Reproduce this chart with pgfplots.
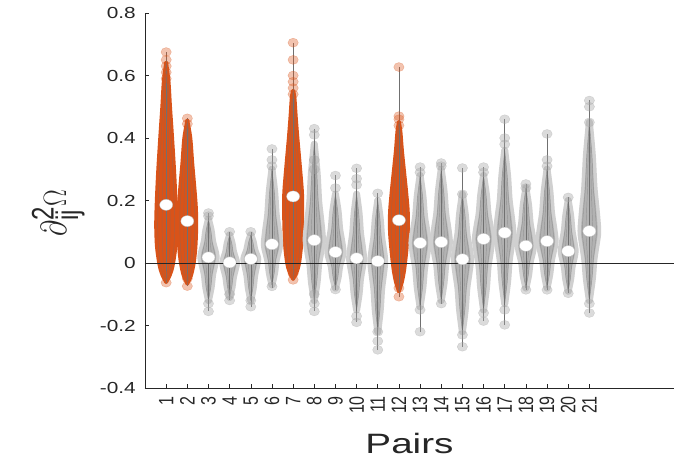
\documentclass[border=0pt]{standalone}
\usepackage{fontspec}
\setmainfont{Liberation Sans}
\usepackage{graphicx}
\usepackage{pgfplots}
\pgfplotsset{compat=1.18}
\usepackage{pgfplotstable}

\definecolor{vorange}{RGB}{217,83,25}
\definecolor{vgray}{RGB}{178,178,178}
\definecolor{vgraylt}{RGB}{208,208,208}
\definecolor{vline}{RGB}{112,112,112}
\definecolor{vdot}{RGB}{165,165,165}
\definecolor{axcol}{RGB}{38,38,38}

% per pair: min, median, max
\pgfplotstableread{
x lo med hi
1 -0.063 0.186 0.675
2 -0.074 0.134 0.463
3 -0.155 0.018 0.160
4 -0.120 0.002 0.100
5 -0.140 0.013 0.100
6 -0.080 0.060 0.365
7 -0.054 0.213 0.705
8 -0.155 0.073 0.430
9 -0.085 0.035 0.280
10 -0.190 0.015 0.303
11 -0.278 0.006 0.223
12 -0.108 0.137 0.627
13 -0.220 0.064 0.307
14 -0.130 0.067 0.320
15 -0.268 0.012 0.304
16 -0.186 0.077 0.307
17 -0.198 0.097 0.460
18 -0.086 0.055 0.253
19 -0.086 0.070 0.413
20 -0.097 0.038 0.210
21 -0.160 0.102 0.520
}\stats

% sparse points in the tails
\pgfplotstableread{
x y
1 0.675
1 0.650
1 0.630
1 0.610
1 0.590
1 -0.040
1 -0.063
2 0.463
2 0.445
2 -0.050
2 -0.074
7 0.705
7 0.650
7 0.600
7 0.580
7 0.560
7 0.540
7 -0.035
7 -0.054
12 0.627
12 0.470
12 0.460
12 0.440
12 -0.080
12 -0.108
}\odots

\pgfplotstableread{
x y
3 0.160
3 0.150
3 -0.130
3 -0.155
4 0.100
4 -0.100
4 -0.120
5 0.100
5 -0.120
5 -0.140
6 0.365
6 0.330
6 0.310
6 -0.075
8 0.430
8 0.410
8 0.330
8 0.300
8 -0.100
8 -0.130
8 -0.155
9 0.280
9 0.240
9 -0.085
10 0.303
10 0.270
10 0.250
10 -0.170
10 -0.190
11 0.223
11 -0.220
11 -0.250
11 -0.278
13 0.307
13 0.290
13 -0.150
13 -0.220
14 0.320
14 0.310
14 -0.130
15 0.304
15 0.220
15 -0.230
15 -0.268
16 0.307
16 0.290
16 -0.160
16 -0.186
17 0.460
17 0.400
17 0.380
17 -0.150
17 -0.198
18 0.253
18 0.240
18 -0.086
19 0.413
19 0.330
19 0.310
19 -0.086
20 0.210
20 -0.097
21 0.520
21 0.500
21 0.450
21 -0.130
21 -0.160
}\gdots

% #1 position, #2 body colour, #3 halo style, #4 profile (y, half width), #5 width factor
\newcommand{\violin}[5]{%
  \addplot[#3, line cap=round, line join=round, smooth]
    table[row sep=\\, x expr=#1+#5*\thisrow{w}, y=y] {#4};
  \addplot[#3, line cap=round, line join=round, smooth]
    table[row sep=\\, x expr=#1-#5*\thisrow{w}, y=y] {#4};
  \addplot[fill=#2, draw=none, smooth]
    table[row sep=\\, x expr=#1+#5*\thisrow{w}, y=y] {#4} -- cycle;
  \addplot[fill=#2, draw=none, smooth]
    table[row sep=\\, x expr=#1-#5*\thisrow{w}, y=y] {#4} -- cycle;
  \addplot[vline, line width=0.45pt, smooth, opacity=0.45]
    table[row sep=\\, x expr=#1+0.85*#5*\thisrow{w}, y=y] {#4};
  \addplot[vline, line width=0.45pt, smooth, opacity=0.45]
    table[row sep=\\, x expr=#1-0.85*#5*\thisrow{w}, y=y] {#4};
  \addplot[vline, line width=0.45pt, smooth, opacity=0.45]
    table[row sep=\\, x expr=#1+0.4*#5*\thisrow{w}, y=y] {#4};
  \addplot[vline, line width=0.45pt, smooth, opacity=0.45]
    table[row sep=\\, x expr=#1-0.4*#5*\thisrow{w}, y=y] {#4};
}

\begin{document}
\begin{tikzpicture}
\begin{axis}[
  scale only axis, width=529pt, height=375pt,
  at={(0,0)}, anchor=south west,
  xmin=0, xmax=25, ymin=-0.4, ymax=0.8,
  axis x line*=bottom, axis y line*=left,
  axis line style={axcol, line width=0.7pt, -},
  tick align=inside, major tick length=4pt,
  tick style={axcol, line width=0.6pt},
  xtick={1,...,21}, ytick={-0.4,-0.2,0,0.2,0.4,0.6,0.8},
  /pgf/number format/assume math mode=true,
  /pgf/number format/fixed, /pgf/number format/precision=1,
  tick label style={font=\fontsize{16}{16}\selectfont, text=axcol},
  xticklabel={\scalebox{1}[1.3]{\pgfmathprintnumber{\tick}}},
  yticklabel={\scalebox{1.3}[1]{\pgfmathprintnumber{\tick}}},
  xticklabel style={rotate=90, anchor=east, inner xsep=8pt, inner ysep=0pt},
  yticklabel style={anchor=east, inner xsep=9pt},
  xlabel={\scalebox{1.38}[1]{Pairs}},
  xlabel style={font=\fontsize{28}{28}\selectfont, text=axcol,
    at={(axis description cs:0.5,-0.147)}, anchor=center},
  ylabel={\scalebox{1}[1.3]{$\scalebox{1.12}{$\partial$}^{\mbox{\fontsize{24}{24}\selectfont 2}}_{\mbox{\fontsize{24}{24}\selectfont ij}}\Omega$}},
  ylabel style={font=\fontsize{46}{46}\selectfont, text=axcol,
    at={(axis description cs:-0.164,0.466)}, anchor=center},
]

% tail points
\addplot[only marks, mark=*, mark size=4.5pt, vorange, opacity=0.35,
  mark options={xscale=1.15, draw=none}] table {\odots};
\addplot[only marks, mark=*, mark size=4.5pt, vdot, opacity=0.4,
  mark options={xscale=1.15, draw=none}] table {\gdots};

% orange pairs
\violin{1}{vorange}{vorange, line width=4pt}{y w\\-0.06 0\\-0.04 0.16\\-0.01 0.3\\0.05 0.43\\0.12 0.47\\0.2 0.44\\0.3 0.37\\0.42 0.26\\0.5 0.18\\0.58 0.11\\0.64 0\\}{1}
\violin{2}{vorange}{vorange, line width=4pt}{y w\\-0.065 0\\-0.04 0.17\\0.0 0.3\\0.05 0.38\\0.12 0.42\\0.18 0.4\\0.25 0.32\\0.32 0.23\\0.4 0.14\\0.455 0\\}{1}
\violin{7}{vorange}{vorange, line width=4pt}{y w\\-0.05 0\\-0.03 0.16\\0.0 0.28\\0.06 0.38\\0.14 0.42\\0.22 0.42\\0.3 0.33\\0.4 0.2\\0.47 0.12\\0.53 0.06\\0.55 0\\}{1}
\violin{12}{vorange}{vorange, line width=4pt}{y w\\-0.09 0\\-0.06 0.14\\-0.02 0.25\\0.04 0.35\\0.1 0.42\\0.16 0.42\\0.22 0.35\\0.3 0.23\\0.36 0.14\\0.42 0.07\\0.45 0\\}{1}

% grey pairs
\violin{3}{vgray}{vgraylt, line width=7pt}{y w\\-0.12 0\\-0.078 0.115\\-0.036 0.18\\-0.008 0.265\\0.02 0.33\\0.044 0.265\\0.068 0.18\\0.104 0.115\\0.14 0\\}{1.1}
\violin{4}{vgray}{vgraylt, line width=7pt}{y w\\-0.11 0\\-0.077 0.105\\-0.044 0.165\\-0.022 0.24\\0.0 0.3\\0.018 0.24\\0.036 0.165\\0.063 0.105\\0.09 0\\}{1.1}
\violin{5}{vgray}{vgraylt, line width=7pt}{y w\\-0.12 0\\-0.08 0.105\\-0.04 0.165\\-0.013 0.24\\0.013 0.3\\0.028 0.24\\0.044 0.165\\0.067 0.105\\0.09 0\\}{1.1}
\violin{6}{vgray}{vgraylt, line width=7pt}{y w\\-0.07 0\\-0.031 0.115\\0.008 0.18\\0.034 0.265\\0.06 0.33\\0.108 0.265\\0.156 0.18\\0.228 0.115\\0.30 0\\}{1.1}
\violin{8}{vgray}{vgraylt, line width=7pt}{y w\\-0.12 0\\-0.062 0.12\\-0.003 0.19\\0.036 0.28\\0.075 0.35\\0.136 0.28\\0.197 0.19\\0.289 0.12\\0.38 0\\}{1.1}
\violin{9}{vgray}{vgraylt, line width=7pt}{y w\\-0.08 0\\-0.046 0.115\\-0.011 0.18\\0.012 0.265\\0.035 0.33\\0.072 0.265\\0.109 0.18\\0.165 0.115\\0.22 0\\}{1.1}
\violin{10}{vgray}{vgraylt, line width=7pt}{y w\\-0.15 0\\-0.1 0.105\\-0.051 0.165\\-0.018 0.24\\0.015 0.3\\0.056 0.24\\0.097 0.165\\0.159 0.105\\0.22 0\\}{1.1}
\violin{11}{vgray}{vgraylt, line width=7pt}{y w\\-0.22 0\\-0.152 0.105\\-0.084 0.165\\-0.039 0.24\\0.006 0.3\\0.045 0.24\\0.084 0.165\\0.142 0.105\\0.2 0\\}{1.1}
\violin{13}{vgray}{vgraylt, line width=7pt}{y w\\-0.14 0\\-0.079 0.12\\-0.018 0.19\\0.023 0.28\\0.064 0.35\\0.107 0.28\\0.15 0.19\\0.215 0.12\\0.28 0\\}{1.1}
\violin{14}{vgray}{vgraylt, line width=7pt}{y w\\-0.12 0\\-0.064 0.12\\-0.008 0.19\\0.03 0.28\\0.067 0.35\\0.114 0.28\\0.16 0.19\\0.23 0.12\\0.3 0\\}{1.1}
\violin{15}{vgray}{vgraylt, line width=7pt}{y w\\-0.22 0\\-0.15 0.12\\-0.081 0.19\\-0.034 0.28\\0.012 0.35\\0.054 0.28\\0.095 0.19\\0.158 0.12\\0.22 0\\}{1.1}
\violin{16}{vgray}{vgraylt, line width=7pt}{y w\\-0.15 0\\-0.082 0.12\\-0.014 0.19\\0.032 0.28\\0.077 0.35\\0.118 0.28\\0.158 0.19\\0.219 0.12\\0.28 0\\}{1.1}
\violin{17}{vgray}{vgraylt, line width=7pt}{y w\\-0.13 0\\-0.062 0.12\\0.006 0.19\\0.052 0.28\\0.097 0.35\\0.15 0.28\\0.202 0.19\\0.281 0.12\\0.36 0\\}{1.1}
\violin{18}{vgray}{vgraylt, line width=7pt}{y w\\-0.08 0\\-0.04 0.115\\0.001 0.18\\0.028 0.265\\0.055 0.33\\0.092 0.265\\0.129 0.18\\0.185 0.115\\0.24 0\\}{1.1}
\violin{19}{vgray}{vgraylt, line width=7pt}{y w\\-0.08 0\\-0.035 0.12\\0.01 0.19\\0.04 0.28\\0.07 0.35\\0.116 0.28\\0.162 0.19\\0.231 0.12\\0.3 0\\}{1.1}
\violin{20}{vgray}{vgraylt, line width=7pt}{y w\\-0.09 0\\-0.052 0.105\\-0.013 0.165\\0.012 0.24\\0.038 0.3\\0.07 0.24\\0.103 0.165\\0.151 0.105\\0.2 0\\}{1.1}
\violin{21}{vgray}{vgraylt, line width=7pt}{y w\\-0.12 0\\-0.053 0.125\\0.013 0.2\\0.058 0.29\\0.102 0.36\\0.172 0.29\\0.241 0.2\\0.346 0.125\\0.45 0\\}{1.1}

% range lines
\addplot[draw=none, mark=none, error bars/.cd, y dir=both, y explicit,
  error mark=none, error bar style={vline, line width=0.55pt}]
  table[x=x, y=med, y error plus expr=\thisrow{hi}-\thisrow{med},
        y error minus expr=\thisrow{med}-\thisrow{lo}] {\stats};

% zero line
\addplot[axcol, line width=0.6pt] coordinates {(0,0) (25,0)};

% medians
\addplot[only marks, mark=*, mark size=5.5pt,
  mark options={fill=white, draw=white!75!black, line width=0.3pt, xscale=1.18}]
  table[x=x, y=med] {\stats};
\end{axis}
\pgfresetboundingbox
\path[use as bounding box] (-145pt,-82pt) rectangle (529pt,388pt);
\end{tikzpicture}
\end{document}
